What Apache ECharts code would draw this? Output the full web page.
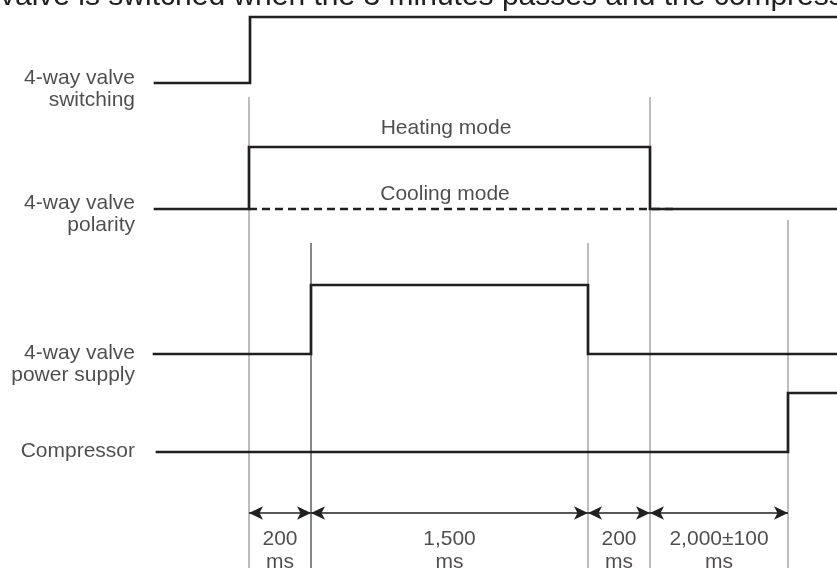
<!DOCTYPE html>
<html>
<head>
<meta charset="utf-8">
<script src="https://cdn.jsdelivr.net/npm/echarts@6/dist/echarts.min.js"></script>
<style>
  html, body { margin: 0; padding: 0; background: #fff; }
  #chart { width: 837px; height: 568px; }
</style>
</head>
<body>
<div id="chart"></div>
<script>
// timing diagram, drawn on a value axis laid out in diagram units
const laneLabels = ['4-way valve\nswitching', '4-way valve\npolarity', '4-way valve\npower supply', 'Compressor'];
const laneLow = [83, 209, 354, 452];   // level when signal is off
const laneHigh = [17, 147, 285, 393];  // level when signal is on
const laneStart = [155, 155, 154, 157];
const laneEdges = [[250], [249, 650], [311, 588], [788]];
const coolingDash = [249, 677];
const modeLabels = ['Heating mode', 'Cooling mode'];
const markerX = [249, 311, 588, 650, 788];
const markerTop = [97, 243, 243, 97, 220];
const spanLabels = ['200\nms', '1,500\nms', '200\nms', '2,000±100\nms'];
const headline = 'valve is switched when the 3 minutes passes and the compressor';

// layout
const W = 837, H = 568;
const ink = '#231f20';
const guide = '#7a7a7a';
const labelRight = 135;
const laneLabelY = [89, 214, 364, 451];
const modeLabelPos = [[446, 128], [445, 194]];
const arrowY = 513;
const spanLabelY = 551;

const chart = echarts.init(document.getElementById('chart'));

function stepTrace(start, low, high, edges) {
  let level = low;
  const pts = [[start, level]];
  edges.forEach(x => {
    pts.push([x, level]);
    level = level === low ? high : low;
    pts.push([x, level]);
  });
  pts.push([W, level]);
  return pts;
}

const series = [];

// vertical guide lines
markerX.forEach((x, i) => {
  series.push({
    type: 'line', silent: true, symbol: 'none', animation: false,
    data: [[x, markerTop[i]], [x, H]],
    lineStyle: { color: i === 1 ? '#111' : guide, width: 1 }
  });
});

// cooling mode dashed line
series.push({
  type: 'line', silent: true, symbol: 'none', animation: false,
  data: [[coolingDash[0], laneLow[1]], [coolingDash[1], laneLow[1]]],
  lineStyle: { color: ink, width: 2.5, type: [8, 5] }
});

// signal traces
laneLabels.forEach((name, i) => {
  series.push({
    type: 'line', silent: true, symbol: 'none', animation: false,
    data: stepTrace(laneStart[i], laneLow[i], laneHigh[i], laneEdges[i]),
    lineStyle: { color: ink, width: 2.7, join: 'miter', cap: 'square' }
  });
});

// duration arrows
series.push({
  type: 'line', data: [], silent: true, animation: false,
  markLine: {
    silent: true, animation: false,
    symbol: ['arrow', 'arrow'], symbolSize: [10, 14],
    lineStyle: { color: ink, width: 1.6, type: 'solid' },
    label: { show: false },
    data: spanLabels.map((s, i) => [
      { coord: [markerX[i], arrowY] },
      { coord: [markerX[i + 1], arrowY] }
    ])
  }
});

const textStyle = { color: ink, fontSize: 21, fontFamily: 'Liberation Sans, Arial, sans-serif', lineHeight: 22 };

// lane labels
series.push({
  type: 'scatter', symbolSize: 0, silent: true, animation: false,
  data: laneLabels.map((t, i) => ({ value: [labelRight, laneLabelY[i]], name: t })),
  label: { show: true, position: 'left', distance: 0, align: 'right', verticalAlign: 'middle',
    formatter: p => p.name, ...textStyle }
});

// mode labels
series.push({
  type: 'scatter', symbolSize: 0, silent: true, animation: false,
  data: modeLabels.map((t, i) => ({ value: modeLabelPos[i], name: t })),
  label: { show: true, position: 'inside', formatter: p => p.name, ...textStyle }
});

// span labels
series.push({
  type: 'scatter', symbolSize: 0, silent: true, animation: false,
  data: spanLabels.map((t, i) => ({ value: [(markerX[i] + markerX[i + 1]) / 2, spanLabelY], name: t })),
  label: { show: true, position: 'inside', formatter: p => p.name, ...textStyle, lineHeight: 23 }
});

chart.setOption({
  backgroundColor: '#fff',
  animation: false,
  grid: { left: 0, right: 0, top: 0, bottom: 0 },
  xAxis: { type: 'value', min: 0, max: W, show: false },
  yAxis: { type: 'value', min: 0, max: H, inverse: true, show: false },
  graphic: [{
    type: 'text', left: 0, top: -18, silent: true,
    style: { text: headline, font: '30px "Liberation Sans", Arial, sans-serif', fill: ink }
  }],
  series: series
});
</script>
</body>
</html>
